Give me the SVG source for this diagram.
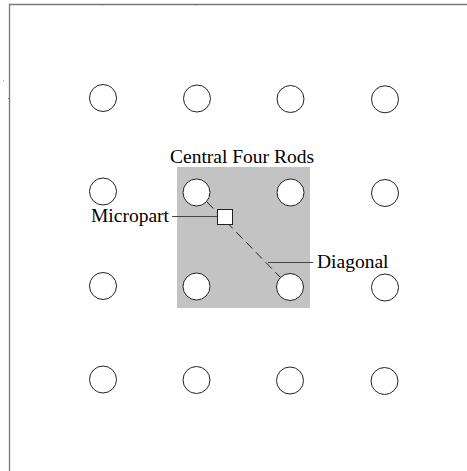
<svg xmlns="http://www.w3.org/2000/svg" width="467" height="471" viewBox="0 0 467 471">
<style>
.rod{fill:#fff;stroke:#222;stroke-width:1}
.lbl{font-family:"Liberation Serif","Times New Roman",serif;font-size:19.5px;fill:#000}
.lead{stroke:#444;stroke-width:1.2;fill:none}
</style>
<rect width="467" height="471" fill="#fff"/>
<g id="frame" stroke="#777" stroke-width="1.3" fill="none">
<path d="M9.5,471 V4.5 H467"/>
<path d="M102.5,4 v1.5 M196.5,4 v1.5 M8,98.5 h2" stroke-width="1"/>
<rect x="3" y="80" width="1" height="1" fill="#999" stroke="none"/>
</g>
<g id="central-region"><rect x="177" y="167" width="133" height="141" fill="#c3c3c3"/></g>
<g id="rods">
<g id="r11"><circle class="rod" cx="103" cy="98" r="13.5"/></g>
<g id="r12"><circle class="rod" cx="197" cy="98.5" r="13.5"/></g>
<g id="r13"><circle class="rod" cx="290.5" cy="99" r="13.5"/></g>
<g id="r14"><circle class="rod" cx="385" cy="99.3" r="13.5"/></g>
<g id="r21"><circle class="rod" cx="103" cy="191.5" r="13.5"/></g>
<g id="r22"><circle class="rod" cx="196.5" cy="192.5" r="13.5"/></g>
<g id="r23"><circle class="rod" cx="290.5" cy="192.5" r="13.5"/></g>
<g id="r24"><circle class="rod" cx="385" cy="193" r="13.5"/></g>
<g id="r31"><circle class="rod" cx="103" cy="286" r="13.5"/></g>
<g id="r32"><circle class="rod" cx="196.5" cy="286.5" r="13.5"/></g>
<g id="r33"><circle class="rod" cx="290" cy="287" r="13.5"/></g>
<g id="r34"><circle class="rod" cx="385" cy="287.5" r="13.5"/></g>
<g id="r41"><circle class="rod" cx="103" cy="379.5" r="13.5"/></g>
<g id="r42"><circle class="rod" cx="196.5" cy="380" r="13.5"/></g>
<g id="r43"><circle class="rod" cx="290" cy="380.5" r="13.5"/></g>
<g id="r44"><circle class="rod" cx="384.5" cy="381" r="13.5"/></g>
</g>
<g id="connectors">
<line x1="207" y1="202" x2="281" y2="278" stroke="#222" stroke-width="1" stroke-dasharray="9,5"/>
<line class="lead" x1="172" y1="216.5" x2="217" y2="216.5"/>
<line class="lead" x1="268" y1="262.5" x2="313" y2="262.5"/>
</g>
<g id="micropart"><rect x="217.5" y="209.5" width="15" height="15" fill="#fff" stroke="#222" stroke-width="1"/></g>
<g id="labels">
<text class="lbl" x="170" y="163">Central Four Rods</text>
<text class="lbl" x="91" y="222">Micropart</text>
<text class="lbl" x="317" y="268">Diagonal</text>
</g>
</svg>
